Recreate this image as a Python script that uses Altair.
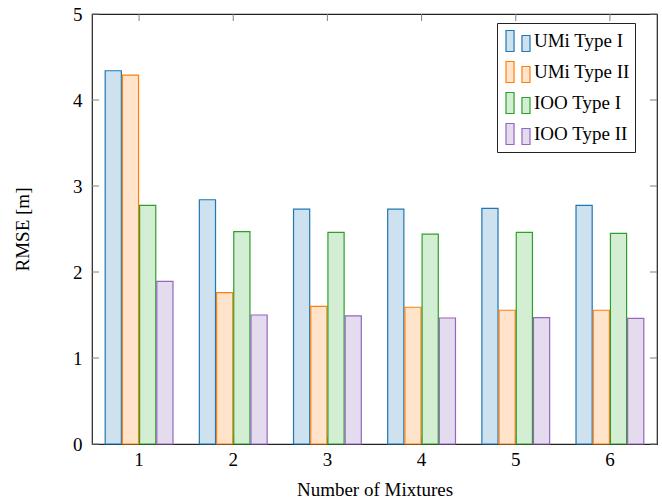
import altair as alt
import pandas as pd

mixtures = ["1", "2", "3", "4", "5", "6"]
series = ["UMi Type I", "UMi Type II", "IOO Type I", "IOO Type II"]
umi_type1 = [4.34, 2.84, 2.73, 2.73, 2.74, 2.775]
umi_type2 = [4.29, 1.76, 1.60, 1.59, 1.555, 1.555]
ioo_type1 = [2.775, 2.47, 2.46, 2.44, 2.46, 2.45]
ioo_type2 = [1.89, 1.50, 1.49, 1.465, 1.47, 1.46]
y_ticks = [0, 1, 2, 3, 4, 5]

stroke_colors = ["#1f77b4", "#ff7f0e", "#2ca02c", "#9467bd"]
fill_colors = ["#cee1ef", "#ffe3ca", "#d4eed4", "#e5dbee"]

rows = []
for s, vals in zip(series, [umi_type1, umi_type2, ioo_type1, ioo_type2]):
    for m, v in zip(mixtures, vals):
        rows.append({"mix": m, "series": s, "rmse": v})
df = pd.DataFrame(rows)
ytick_df = pd.DataFrame({"rmse": y_ticks})
xtick_df = pd.DataFrame({"mix": mixtures})

FONT = "Liberation Serif"
FS = 19
W, H = 565, 430
TICK = "#808080"

xscale = alt.Scale(domain=mixtures, paddingInner=0.28, paddingOuter=0.14)
yscale = alt.Scale(domain=[0, 5], nice=False)
xaxis = alt.Axis(title="Number of Mixtures", labelAngle=0, ticks=False,
                 domain=False, grid=False, labelPadding=6, titlePadding=11)
yaxis = alt.Axis(title="RMSE [m]", values=y_ticks, ticks=False,
                 domain=False, grid=False, labelPadding=10, titlePadding=40)

legend_path = ("M-0.75,-0.875L-0.08,-0.875L-0.08,0.875L-0.75,0.875Z"
               "M0.58,-0.46L1.25,-0.46L1.25,0.875L0.58,0.875Z")

NB = "\u00a0"
leg = alt.Legend(title=None, orient="none", legendX=405, legendY=9,
                 labelExpr="datum.label + '" + NB * 2 + "'")

bars = alt.Chart(df).mark_bar(strokeWidth=1.2).encode(
    x=alt.X("mix:N", scale=xscale, sort=mixtures, axis=xaxis),
    xOffset=alt.XOffset("series:N", sort=series,
                        scale=alt.Scale(domain=series, paddingInner=0.06)),
    y=alt.Y("rmse:Q", scale=yscale, axis=yaxis),
    fill=alt.Fill("series:N", sort=series,
                  scale=alt.Scale(domain=series, range=fill_colors),
                  legend=leg),
    stroke=alt.Stroke("series:N", sort=series,
                      scale=alt.Scale(domain=series, range=stroke_colors),
                      legend=leg),
)

ytick_left = alt.Chart(ytick_df).mark_rule(color=TICK, strokeWidth=1).encode(
    y=alt.Y("rmse:Q", scale=yscale, axis=yaxis),
    x=alt.value(0), x2=alt.value(7))
ytick_right = alt.Chart(ytick_df).mark_rule(color=TICK, strokeWidth=1).encode(
    y=alt.Y("rmse:Q", scale=yscale, axis=yaxis),
    x=alt.value(W - 7), x2=alt.value(W))
xtick_top = alt.Chart(xtick_df).mark_rule(color=TICK, strokeWidth=1).encode(
    x=alt.X("mix:N", scale=xscale, sort=mixtures, axis=xaxis),
    y=alt.value(0), y2=alt.value(7))
xtick_bot = alt.Chart(xtick_df).mark_rule(color=TICK, strokeWidth=1).encode(
    x=alt.X("mix:N", scale=xscale, sort=mixtures, axis=xaxis),
    y=alt.value(H - 7), y2=alt.value(H))

chart = alt.layer(xtick_bot, bars, ytick_left, ytick_right, xtick_top).properties(
    width=W, height=H,
    autosize=alt.AutoSizeParams(type="none"),
    padding={"left": 92, "top": 14, "right": 5, "bottom": 60},
).configure_view(
    stroke="#222222", strokeWidth=1.2
).configure_axis(
    labelFont=FONT, titleFont=FONT, labelFontSize=FS, titleFontSize=FS,
    titleFontWeight="normal", labelColor="black", titleColor="black",
).configure_legend(
    labelFont=FONT, labelFontSize=FS, labelColor="black",
    symbolType=legend_path, symbolSize=576, symbolStrokeWidth=1.2,
    strokeColor="#222222", fillColor="white", padding=5, rowPadding=5,
    labelOffset=6, cornerRadius=0,
)

chart.save("out.html", embed_options={"renderer": "svg", "actions": False})
